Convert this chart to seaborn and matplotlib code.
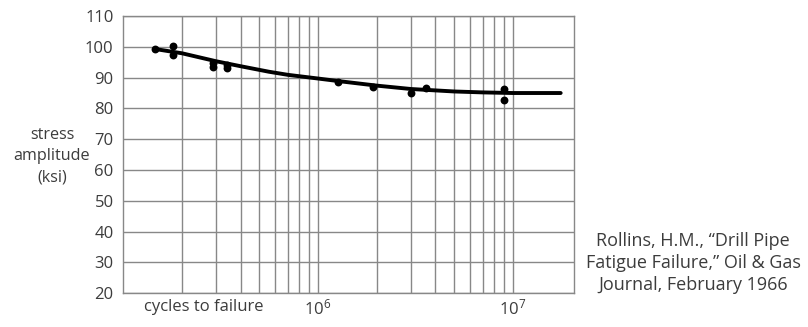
import matplotlib
matplotlib.use("Agg")
import matplotlib.pyplot as plt
from matplotlib.ticker import FixedLocator, NullFormatter
import seaborn as sns
import pandas as pd

# measured data points
cycles = [1.45e5, 1.79e5, 1.79e5, 2.89e5, 2.89e5, 3.39e5, 3.39e5,
          1.26e6, 1.91e6, 3.01e6, 3.59e6, 9.0e6, 9.0e6]
stress = [99.3, 100.4, 97.2, 94.6, 93.6, 94.2, 93.0,
          88.6, 87.0, 85.0, 86.7, 86.4, 82.6]

# fitted curve
curve_x = [1.45e5, 2e5, 3e5, 4e5, 5.6e5, 7e5, 1e6, 1.3e6, 2e6, 3e6, 5e6, 7e6, 1e7, 1.76e7]
curve_y = [99.3, 97.9, 95.3, 93.7, 91.9, 90.9, 89.7, 88.8, 87.4, 86.3, 85.5, 85.2, 85.0, 85.0]

y_ticks = [20, 30, 40, 50, 60, 70, 80, 90, 100, 110]
x_major = [1e6, 1e7]
x_major_labels = [r"$\mathregular{10^6}$", r"$\mathregular{10^7}$"]
x_minor = [2e5, 3e5, 4e5, 5e5, 6e5, 7e5, 8e5, 9e5,
           2e6, 3e6, 4e6, 5e6, 6e6, 7e6, 8e6, 9e6]
y_label = "stress\namplitude\n(ksi)"
x_label = "cycles to failure"
citation = "Rollins, H.M., \u201cDrill Pipe\nFatigue Failure,\u201d Oil & Gas\nJournal, February 1966"

sns.set_style("white")
plt.rcParams["font.family"] = ["Open Sans", "DejaVu Sans"]
plt.rcParams["mathtext.fontset"] = "custom"
plt.rcParams["mathtext.rm"] = "Open Sans"

txt = "#3c3c3c"
gridc = "#888888"

fig = plt.figure(figsize=(8.08, 3.27), dpi=100)
ax = fig.add_axes([0.1526, 0.1031, 0.5578, 0.848])

pts = pd.DataFrame({"cycles": cycles, "stress": stress})
crv = pd.DataFrame({"x": curve_x, "y": curve_y})

sns.lineplot(data=crv, x="x", y="y", ax=ax, color="black", linewidth=2.8,
             zorder=3, sort=True, estimator=None)
sns.scatterplot(data=pts, x="cycles", y="stress", ax=ax, color="black",
                s=32, edgecolor="black", linewidth=0, zorder=4)

ax.set_xscale("log")
ax.set_xlim(1e5, 2.06e7)
ax.set_ylim(20, 110)
ax.xaxis.set_major_locator(FixedLocator(x_major))
ax.set_xticklabels(x_major_labels)
ax.xaxis.set_minor_locator(FixedLocator(x_minor))
ax.xaxis.set_minor_formatter(NullFormatter())
ax.set_yticks(y_ticks)
ax.set_yticklabels([str(v) for v in y_ticks])

ax.grid(True, which="both", axis="x", color=gridc, linewidth=1.0)
ax.grid(True, which="major", axis="y", color=gridc, linewidth=1.0)
ax.set_axisbelow(True)
for s in ax.spines.values():
    s.set_color(gridc)
    s.set_linewidth(1.0)

ax.tick_params(axis="both", which="both", length=0, colors=txt, labelsize=12)
ax.tick_params(axis="y", pad=7)
ax.tick_params(axis="x", pad=4)
ax.set_xlabel("")
ax.set_ylabel("")

fig.text(52 / 808, 1 - 156 / 327, y_label, ha="center", va="center",
         fontsize=11.6, color=txt, linespacing=1.42)
fig.text(204 / 808, 1 - 307 / 327, x_label, ha="center", va="center",
         fontsize=12, color=txt)
fig.text(693 / 808, 1 - 263 / 327, citation, ha="center", va="center",
         fontsize=13, color=txt, linespacing=1.26)

fig.savefig("out.png", dpi=100)
